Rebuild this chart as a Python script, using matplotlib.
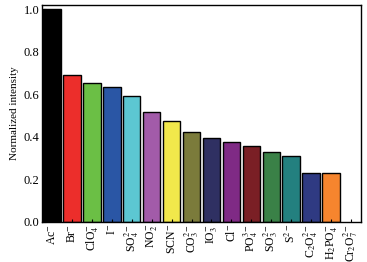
import matplotlib
matplotlib.use("Agg")
import matplotlib.pyplot as plt
from matplotlib.ticker import MultipleLocator

plt.rcParams['font.family'] = ['Liberation Serif', 'DejaVu Serif']
plt.rcParams['mathtext.fontset'] = 'stix'

labels = ['Ac$^{-}$', 'Br$^{-}$', 'ClO$_4^{-}$', 'I$^{-}$', 'SO$_4^{2-}$', 'NO$_2^{-}$',
          'SCN$^{-}$', 'CO$_3^{2-}$', 'IO$_3^{-}$', 'Cl$^{-}$', 'PO$_4^{3-}$', 'SO$_3^{2-}$',
          'S$^{2-}$', 'C$_2$O$_4^{2-}$', 'H$_2$PO$_4^{-}$', 'Cr$_2$O$_7^{2-}$']
values = [1.0, 0.689, 0.655, 0.633, 0.593, 0.515, 0.476, 0.423, 0.397, 0.377,
          0.357, 0.327, 0.311, 0.231, 0.231, 0.0]
colors = ['#000000', '#ec2e2b', '#6bbf45', '#2a56a5', '#5cc7d2', '#a25ba9',
          '#f1e84b', '#7b7b3b', '#2f3062', '#7f2a85', '#7a1f25', '#3a8147',
          '#23807f', '#2f3a82', '#f6852e', '#ffffff']
edges = ['none' if c == '#ffffff' else 'black' for c in colors]

fig = plt.figure(figsize=(3.67, 2.62), dpi=100)
ax = fig.add_axes([0.1144, 0.1527, 0.8693, 0.8283])
x = list(range(len(labels)))
ax.bar(x, values, width=0.88, color=colors, edgecolor=edges, linewidth=1.0)
ax.set_xlim(-0.5, len(labels) - 0.5)
ax.set_ylim(0, 1.02)
ax.set_xticks(x)
ax.set_xticklabels(labels, rotation=90, fontsize=8.5)
ax.set_yticks([0, 0.2, 0.4, 0.6, 0.8, 1.0])
ax.set_yticklabels([f'{v:.1f}' for v in [0, 0.2, 0.4, 0.6, 0.8, 1.0]])
ax.yaxis.set_minor_locator(MultipleLocator(0.1))
ax.tick_params(axis='y', labelsize=9, direction='in', length=3, width=0.8, pad=2)
ax.tick_params(axis='y', which='minor', direction='in', length=1.5, width=0.8)
ax.tick_params(axis='x', direction='in', length=2, width=0.8, pad=1.5)
ax.set_ylabel('Normalized intensity', fontsize=8, labelpad=3)
for s in ax.spines.values():
    s.set_linewidth(1.0)

fig.savefig('out.png', dpi=100)
